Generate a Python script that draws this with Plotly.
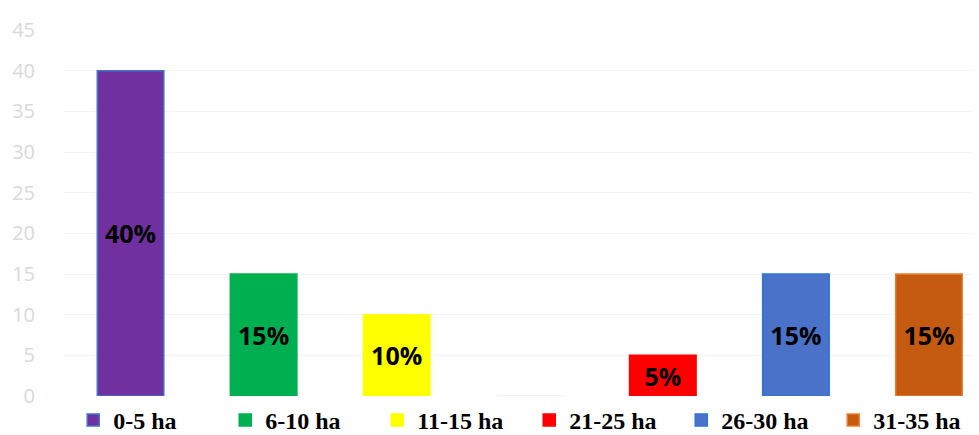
import plotly.graph_objects as go

categories = ["0-5 ha", "6-10 ha", "11-15 ha", "16-20 ha", "21-25 ha", "26-30 ha", "31-35 ha"]
values = [40, 15, 10, 0, 5, 15, 15]
labels = ["40%", "15%", "10%", "", "5%", "15%", "15%"]
show_in_legend = [True, True, True, False, True, True, True]
fill_colors = ["#7030a0", "#00b050", "#ffff00", "#f0f0f0", "#ff0000", "#4a72c8", "#c55a11"]
line_colors = ["#4472c4", "#00b050", "#ffff00", "#eeeeee", "#ff0000", "#2e75d6", "#ed7d31"]
y_ticks = [0, 5, 10, 15, 20, 25, 30, 35, 40, 45]

fig = go.Figure()
for cat, val, lab, leg, fc, lc in zip(categories, values, labels, show_in_legend, fill_colors, line_colors):
    fig.add_trace(go.Bar(
        x=[cat], y=[val], name=cat, text=[lab],
        textposition="inside", insidetextanchor="middle", constraintext="none",
        textfont=dict(family="Open Sans", size=25, color="black", weight="bold"),
        marker=dict(color=fc, line=dict(color=lc, width=1.5)),
        width=0.5, showlegend=leg, cliponaxis=False,
    ))

fig.update_layout(
    width=979, height=435,
    paper_bgcolor="white", plot_bgcolor="white",
    margin=dict(l=56, r=0, t=22, b=40),
    barmode="overlay",
    xaxis=dict(categoryorder="array", categoryarray=categories, showticklabels=False,
               showgrid=False, zeroline=False, showline=False, range=[-0.5, 6.436]),
    yaxis=dict(range=[0, 45], tickvals=y_ticks, showgrid=True, gridcolor="#f3f3f3",
               zeroline=False, showline=False,
               tickfont=dict(family="Open Sans", size=20, color="#d9d9d9"),
               ticklabelstandoff=28),
    legend=dict(orientation="h", x=0.01, xanchor="left", y=-0.005, yanchor="top",
                font=dict(family="Liberation Serif", size=24, color="black", weight="bold"),
                entrywidth=107, entrywidthmode="pixels", itemwidth=30),
    font=dict(family="Open Sans"),
)
fig.write_html("out.html")
